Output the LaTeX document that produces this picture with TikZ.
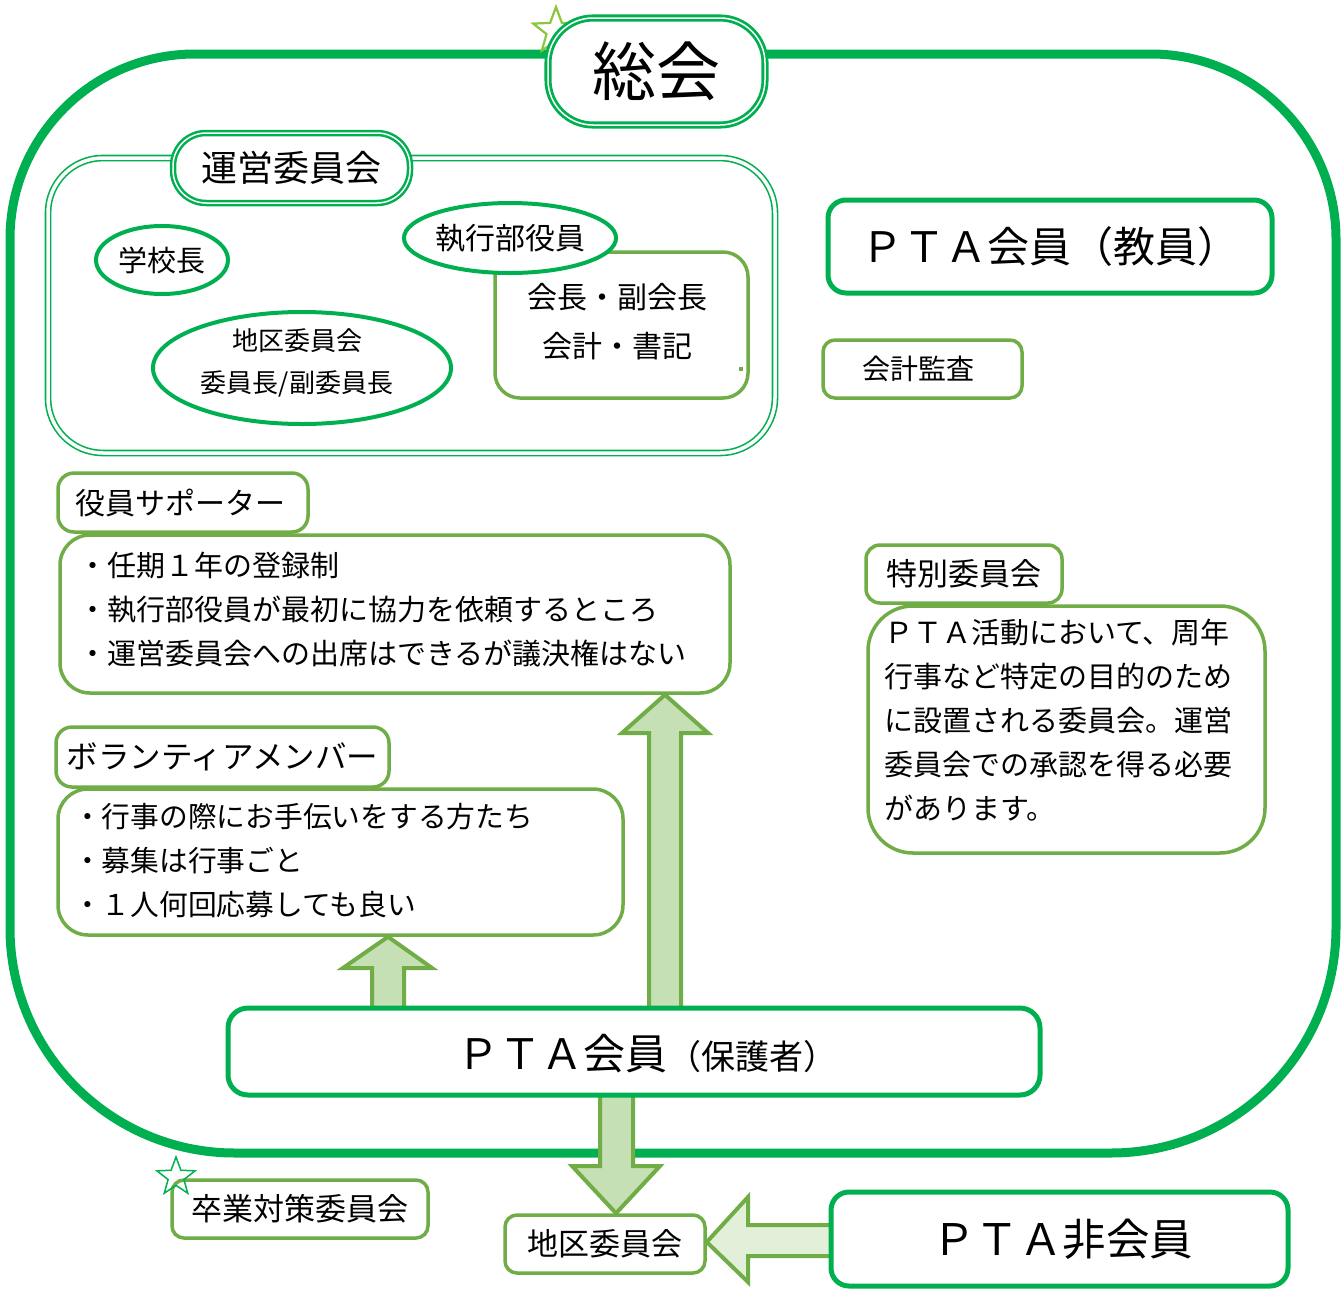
\documentclass[tikz,border=0pt]{standalone}
\usepackage{fontspec}
\setmainfont{Noto Sans CJK JP}
\usetikzlibrary{shapes.geometric}
\definecolor{dg}{HTML}{00B050}
\definecolor{lg}{HTML}{70AD47}
\definecolor{sg}{HTML}{8CC63F}
\definecolor{af}{HTML}{C5E0B4}
\definecolor{aflight}{HTML}{E2F0D9}
\newcommand\fsz[1]{\fontsize{#1}{#1}\selectfont}
\begin{document}
\begin{tikzpicture}[x=1pt,y=-1pt,
  lgbox/.style={rectangle, draw=lg, line width=3.5, fill=white, rounded corners=14, inner sep=0},
  dgbox/.style={rectangle, draw=dg, line width=5, fill=white, rounded corners=18, inner sep=0},
  dgell/.style={ellipse, draw=dg, line width=4, fill=white, inner sep=0},
  dblbox/.style={rectangle, draw=dg, double=white, fill=white, inner sep=0},
  barrow/.style={fill=af, draw=lg, line width=4, line join=miter},
  starshape/.style={star, star points=5, star point ratio=2.4, inner sep=0, line width=1.5},
  txt/.style={inner sep=0, align=left, anchor=west}
]
\useasboundingbox (0,0) rectangle (1343,1293);
\fill[white] (0,0) rectangle (1343,1293);

% outer frame
\draw[dg, line width=9] (10,600) [rounded corners=185] -- (10,54) -- (1336,54) -- (1336,600)
  [rounded corners=225] -- (1336,1153) -- (10,1153) -- (10,600);

% 総会
\node[starshape, draw=sg, line width=2.2, minimum size=48] (star1) at (556,31) {};
\node[dblbox, line width=2.8, double distance=1.5, rounded corners=45,
  minimum width=217, minimum height=107] (sokai) at (656.5,71.5) {\fsz{64}総会};

% 運営委員会 group
\node[dblbox, line width=1.6, double distance=3.5, rounded corners=55,
  minimum width=727, minimum height=295] (unei) at (411.5,305.5) {};
\node[dblbox, line width=2.5, double distance=1.5, rounded corners=33,
  minimum width=237, minimum height=70] (ueit) at (291.5,168) {\fsz{36}運営委員会};
\node[dgell, minimum width=132, minimum height=68] (kocho) at (162,260) {\fsz{29}学校長};
\node[lgbox, rounded corners=25, minimum width=253, minimum height=146] (kaicho) at (621.5,325) {};
\node[inner sep=0, align=center, font=\fontsize{30}{49}\selectfont] (kaichot) at (617,321.5) {会長・副会長\\会計・書記};
\fill[lg] (739,367) rectangle (743,371);
\node[dgell, minimum width=198, minimum height=70] (shikko) at (510,238) {\fsz{30}執行部役員};
\node[dgell, minimum width=298, minimum height=112] (chiku1) at (302,368) {};
\node[inner sep=0, align=center, font=\fontsize{26}{42}\selectfont] (chiku1t) at (297,363) {地区委員会\\委員長/副委員長};

% right side
\node[dgbox, minimum width=444, minimum height=93] (kyoin) at (1050,246.5) {\fsz{42}ＰＴＡ会員（教員）};
\node[lgbox, rounded corners=12, minimum width=199, minimum height=58] (kansa) at (922.5,369) {\fsz{28}会計監査\hspace*{8pt}};
\node[lgbox, rounded corners=14, minimum width=196, minimum height=58] (tokut) at (964,574) {\fsz{31}特別委員会};
\node[lgbox, rounded corners=45, minimum width=397, minimum height=247] (tokub) at (1066.5,729.5) {};
\node[txt, font=\fontsize{29}{44}\selectfont] (tokutxt) at (884,720)
  {ＰＴＡ活動において、周年\\行事など特定の目的のため\\に設置される委員会。運営\\委員会での承認を得る必要\\があります。};

% 役員サポーター
\node[lgbox, rounded corners=16, minimum width=250, minimum height=59] (yakt) at (183,502.5) {\fsz{30}役員サポーター\hspace*{6pt}};
\node[lgbox, rounded corners=30, minimum width=670, minimum height=158] (yakb) at (395,614) {};
\node[txt, font=\fontsize{29}{44}\selectfont] (yaktxt) at (78,610)
  {・任期１年の登録制\\・執行部役員が最初に協力を依頼するところ\\・運営委員会への出席はできるが議決権はない};

% ボランティアメンバー
\node[lgbox, rounded corners=16, minimum width=333, minimum height=60] (volt) at (222.5,757) {\fsz{31.5}ボランティアメンバー};
\node[lgbox, rounded corners=30, minimum width=565, minimum height=146] (volb) at (340.5,862) {};
\node[txt, font=\fontsize{28.75}{44}\selectfont] (voltxt) at (73,861)
  {・行事の際にお手伝いをする方たち\\・募集は行事ごと\\・１人何回応募しても良い};

% bottom boxes (placed before arrows for anchors)
\node[lgbox, rounded corners=12, minimum width=200, minimum height=58] (chiku2) at (605,1244) {\fsz{31}地区委員会};
\node[lgbox, rounded corners=12, minimum width=256, minimum height=58] (sotsu) at (300,1209) {\fsz{31}卒業対策委員会};
\node[starshape, draw=dg, minimum size=40] (star2) at (176,1177) {};

% block arrows
\draw[barrow] (649,1012) -- (649,733) -- (622,733) -- (665,0 |- yakb.south) -- (708,733) -- (681,733) -- (681,1012);
\draw[barrow] (372,1012) -- (372,968) -- (343,968) -- (388,0 |- volb.south) -- (432,968) -- (404,968) -- (404,1012);
\draw[barrow] (600,1090) -- (600,1166) -- (572,1166) -- (616,0 |- chiku2.north) -- (660,1166) -- (633,1166) -- (633,1090);
\draw[barrow, fill=aflight] (836,1225) -- (748,1225) -- (748,1197) -- (0,1242 -| chiku2.east) -- (748,1282) -- (748,1256) -- (836,1256);

% PTA会員（保護者） and 非会員
\node[dgbox, rounded corners=20, minimum width=812, minimum height=87] (hogo) at (634,1051.5) {};
\node[inner sep=0] (hogot) at (647,1054) {{\fsz{42}ＰＴＡ会員}{\fsz{34}（保護者）}};
\node[dgbox, minimum width=457, minimum height=94] (hikai) at (1059.5,1239) {\hspace*{6pt}\fsz{43.5}ＰＴＡ非会員};
\end{tikzpicture}
\end{document}
